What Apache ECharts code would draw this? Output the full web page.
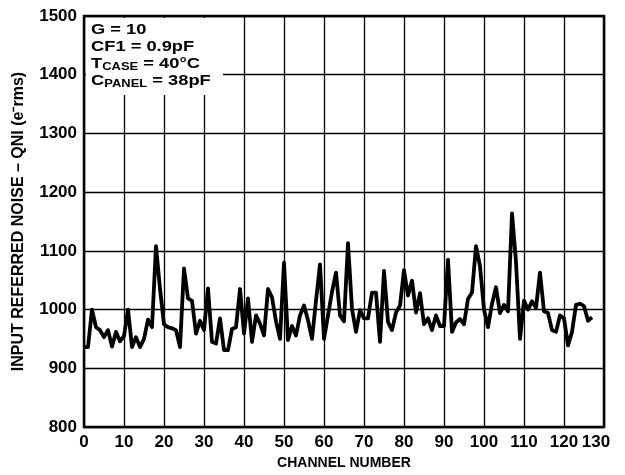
<!DOCTYPE html>
<html>
<head>
<meta charset="utf-8">
<script src="https://cdn.jsdelivr.net/npm/echarts@6/dist/echarts.min.js"></script>
<style>html,body{margin:0;padding:0;background:#fff}#c{width:625px;height:475px}</style>
</head>
<body>
<div id="c"></div>
<script>
const channels = Array.from({length: 128}, (_, i) => i);
const noise = [
 936, 936, 1000, 970, 965, 953, 965, 937, 962, 946,
 955, 1000, 936, 953, 936, 950, 983, 970, 1108, 1035,
 975, 970, 968, 965, 936, 1070, 1019, 1015, 959, 981,
 965, 1036, 945, 942, 985, 931, 931, 967, 970, 1035,
 959, 1019, 945, 990, 976, 956, 1035, 1021, 980, 950,
 1080, 948, 972, 956, 990, 1007, 982, 950, 1015, 1077,
 950, 990, 1030, 1063, 990, 980, 1113, 1001, 962, 999,
 985, 985, 1029, 1029, 945, 1066, 979, 965, 995, 1007,
 1067, 1024, 1049, 995, 1028, 975, 985, 965, 990, 972,
 972, 1085, 962, 978, 984, 975, 1018, 1029, 1108, 1074,
 1000, 970, 1010, 1038, 994, 1008, 997, 1164, 1081, 950,
 1015, 1000, 1014, 1003, 1063, 997, 994, 965, 962, 990,
 985, 939, 962, 1008, 1010, 1006, 981, 987
];
const xTicks = {min: 0, max: 130, interval: 10};
const yTicks = {min: 800, max: 1500, interval: 100};
const xTitle = 'CHANNEL NUMBER';
const yTitle = 'INPUT REFERRED NOISE – QNI (e\u207Brms)';
const notes = ['{b|G = 10}', '{b|CF1 = 0.9pF}', '{b|T}{s|CASE}{b| = 40°C}', '{b|C}{s|PANEL}{b| = 38pF}'];

const FONT = '"Liberation Sans", Arial, Helvetica, sans-serif';
const chart = echarts.init(document.getElementById('c'), null, {renderer: 'canvas'});
chart.setOption({
  animation: false,
  backgroundColor: '#fff',
  grid: {left: 84, right: 21, top: 16, bottom: 44, show: true, borderColor: '#000', borderWidth: 2.5, backgroundColor: 'transparent'},
  xAxis: {
    type: 'value', min: xTicks.min, max: xTicks.max, interval: xTicks.interval,
    name: xTitle, nameLocation: 'middle', nameGap: 29,
    nameTextStyle: {fontFamily: FONT, fontWeight: 'bold', fontSize: 14, color: '#000'},
    axisLine: {show: false}, axisTick: {show: false},
    axisLabel: {
      fontFamily: FONT, fontWeight: 'bold', fontSize: 17, color: '#000', margin: 7,
      formatter: v => v === xTicks.max ? '{m|' + v + '}' : String(v),
      rich: {m: {fontFamily: FONT, fontWeight: 'bold', fontSize: 17, color: '#000', padding: [0, 16, 0, 0]}}
    },
    splitLine: {show: true, lineStyle: {color: '#000', width: 1.3}}
  },
  yAxis: {
    type: 'value', min: yTicks.min, max: yTicks.max, interval: yTicks.interval,
    name: yTitle, nameLocation: 'middle', nameGap: 57,
    nameTextStyle: {fontFamily: FONT, fontWeight: 'bold', fontSize: 16, color: '#000'},
    axisLine: {show: false}, axisTick: {show: false},
    axisLabel: {fontFamily: FONT, fontWeight: 'bold', fontSize: 17, color: '#000', margin: 7, formatter: v => String(v)},
    splitLine: {show: true, lineStyle: {color: '#000', width: 1.3}}
  },
  series: [{
    type: 'line',
    data: channels.map((c, i) => [c, noise[i]]),
    showSymbol: false,
    lineStyle: {color: '#000', width: 3.8, join: 'round'},
    z: 5
  }],
  graphic: [
    {type: 'rect', z: 50, shape: {x: 86, y: 18, width: 137, height: 77}, style: {fill: '#fff'}},
    {type: 'text', z: 51, x: 91, y: 21, scaleX: 1.18, style: {
      text: notes.join('\n'),
      rich: {
        b: {fontFamily: FONT, fontWeight: 'bold', fontSize: 15.5, lineHeight: 17, fill: '#000'},
        s: {fontFamily: FONT, fontWeight: 'bold', fontSize: 11, lineHeight: 11, verticalAlign: 'bottom', fill: '#000'}
      }
    }}
  ]
});
</script>
</body>
</html>
